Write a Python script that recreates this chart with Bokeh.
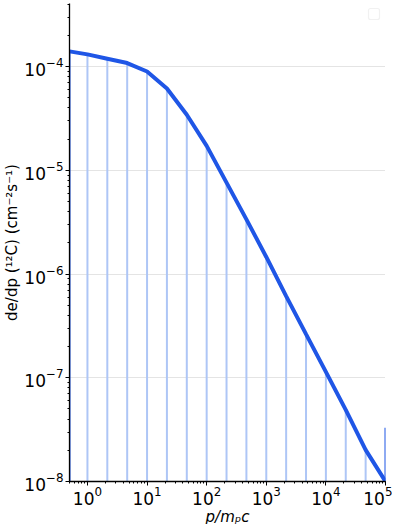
from bokeh.plotting import figure
from bokeh.embed import file_html
from bokeh.resources import INLINE
from bokeh.models import BoxAnnotation, Range1d, LogTicker

# momentum grid (p / m_p c)
momentum = [0.5, 1.0, 2.154, 4.642, 10.0, 21.54, 46.42, 100.0, 215.4, 464.2,
            1000.0, 2154.0, 4642.0, 1.0e4, 2.154e4, 4.642e4, 1.0e5]
# differential emission de/dp (12C), cm^-2 s^-1
dedp = [1.40e-4, 1.31e-4, 1.19e-4, 1.08e-4, 8.95e-5, 6.14e-5, 3.43e-5, 1.72e-5,
        7.6e-6, 3.36e-6, 1.46e-6, 6.12e-7, 2.63e-7, 1.14e-7, 4.9e-8, 2.02e-8, 1.0e-8]
# value of the final bin edge stem
end_stem_value = 3.3e-8
y_floor = 1.0e-8

LINE = "#1f56e6"
STEM = "#aec6f6"

FRAME_W = 316
FRAME_H = 478

p = figure(frame_width=FRAME_W, frame_height=FRAME_H,
           x_axis_type="log", y_axis_type="log",
           output_backend="svg", toolbar_location=None,
           x_range=Range1d(0.5, 1.0e5), y_range=Range1d(1.0e-8, 4.05e-4),
           min_border_left=69, min_border_right=7, min_border_top=3,
           min_border_bottom=10)
p.outline_line_color = None
p.background_fill_color = "white"
p.border_fill_color = "white"

# interior stems (light)
xs_in = momentum[1:-1]
ys_in = dedp[1:-1]
p.segment(x0=xs_in, y0=[y_floor] * len(xs_in), x1=xs_in, y1=ys_in,
          line_color=STEM, line_width=2)
# edge stems (bright)
p.segment(x0=[momentum[0], momentum[-1]], y0=[y_floor, y_floor],
          x1=[momentum[0], momentum[-1]], y1=[dedp[0], end_stem_value],
          line_color=LINE, line_width=2)
# main curve
p.line(momentum, dedp, line_color=LINE, line_width=4)

# grid
p.xgrid.grid_line_color = None
p.ygrid.grid_line_color = "#c8c8c8"
p.ygrid.grid_line_dash = "1 1"
p.ygrid.grid_line_width = 1

for ax in (p.xaxis[0], p.yaxis[0]):
    ax.axis_line_color = "black"
    ax.axis_line_width = 1.3
    ax.major_tick_line_color = "black"
    ax.minor_tick_line_color = "black"
    ax.major_tick_out = 4
    ax.major_tick_in = 0
    ax.minor_tick_out = 2
    ax.minor_tick_in = 0
    ax.major_label_text_font = "DejaVu Sans"
    ax.major_label_text_font_size = "17px"
    ax.major_label_text_color = "black"
    ax.axis_label_text_font = "DejaVu Sans"
    ax.axis_label_text_font_size = "15px"
    ax.axis_label_text_color = "black"
    ax.axis_label_standoff = 0
    ax.major_label_standoff = 2

p.xaxis[0].major_label_standoff = 0
p.xaxis.axis_label = "p/mₚc"
p.xaxis.axis_label_text_font_style = "italic"
p.yaxis.axis_label = "de/dp (¹²C) (cm⁻²s⁻¹)"
p.yaxis.axis_label_text_font_style = "normal"
p.xaxis.ticker = LogTicker(num_minor_ticks=10, mantissas=[1])
p.yaxis.ticker = LogTicker(num_minor_ticks=10, mantissas=[1])

# empty legend frame (top right)
box = BoxAnnotation(left=FRAME_W - 17, right=FRAME_W - 6,
                    top=FRAME_H - 5, bottom=FRAME_H - 16,
                    left_units="screen", right_units="screen",
                    top_units="screen", bottom_units="screen",
                    fill_color="white", fill_alpha=1.0,
                    line_color="#cfcfcf", line_width=1.2, border_radius=2)
p.add_layout(box)

open("out.html", "w").write(file_html(p, INLINE))
